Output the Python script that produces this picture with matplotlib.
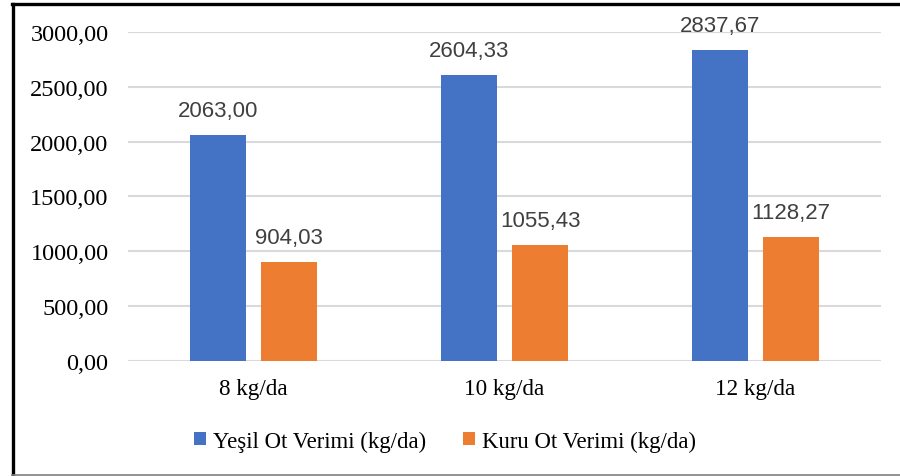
import numpy as np
import matplotlib.pyplot as plt
from matplotlib.lines import Line2D

categories = ["8 kg/da", "10 kg/da", "12 kg/da"]
yesil = [2063.00, 2604.33, 2837.67]
kuru = [904.03, 1055.43, 1128.27]
series_names = ["Yeşil Ot Verimi (kg/da)", "Kuru Ot Verimi (kg/da)"]

serif = ["Liberation Serif", "DejaVu Serif"]
sans = ["Liberation Sans", "DejaVu Sans"]

fig = plt.figure(figsize=(9, 4.77), dpi=100)
ax = fig.add_axes([0.1422, 0.241, 0.8368, 0.69])

x = np.arange(len(categories))
w = 0.223
off = 0.1414
b1 = ax.bar(x - off, yesil, w, color="#4472C4", label=series_names[0], zorder=3)
b2 = ax.bar(x + off, kuru, w, color="#ED7D31", label=series_names[1], zorder=3)

def fmt(v):
    return f"{v:.2f}".replace(".", ",")

for bars, vals in [(b1, yesil), (b2, kuru)]:
    for rect, v in zip(bars, vals):
        ax.annotate(fmt(v), (rect.get_x() + rect.get_width() / 2, v),
                    xytext=(0, 10), textcoords="offset points",
                    ha="center", va="bottom", fontsize=16,
                    family=sans, color="#404040")

ax.set_xlim(-0.5, 2.5)
ax.set_ylim(0, 3000)
ax.set_yticks(np.arange(0, 3001, 500))
ax.set_yticklabels([fmt(t) for t in np.arange(0, 3001, 500)],
                   family=serif, fontsize=17.5)
ax.set_xticks(x)
ax.set_xticklabels(categories, family=serif, fontsize=16.7)
ax.tick_params(length=0)
ax.tick_params(axis="y", pad=14)
ax.tick_params(axis="x", pad=12)
ax.yaxis.grid(True, color="#d9d9d9", lw=1.5, zorder=0)
for s in ax.spines.values():
    s.set_visible(False)

leg = fig.legend(loc="center", bbox_to_anchor=(445 / 900, 1 - 442 / 477), ncol=2,
                 frameon=False, prop={"family": serif, "size": 16.4},
                 handlelength=0.55, handleheight=0.55, handletextpad=0.3,
                 columnspacing=1.6, borderpad=0, borderaxespad=0)

# frame around the chart
fig.add_artist(Line2D([0.0133, 1.0], [0.9885, 0.9885], color="black", lw=2.4))
fig.add_artist(Line2D([0.0144, 0.0144], [0.0, 0.99], color="black", lw=2.4))
fig.add_artist(Line2D([0.0133, 1.0], [0.002, 0.002], color="#808080", lw=1.2))

fig.savefig("out.png", dpi=100)
